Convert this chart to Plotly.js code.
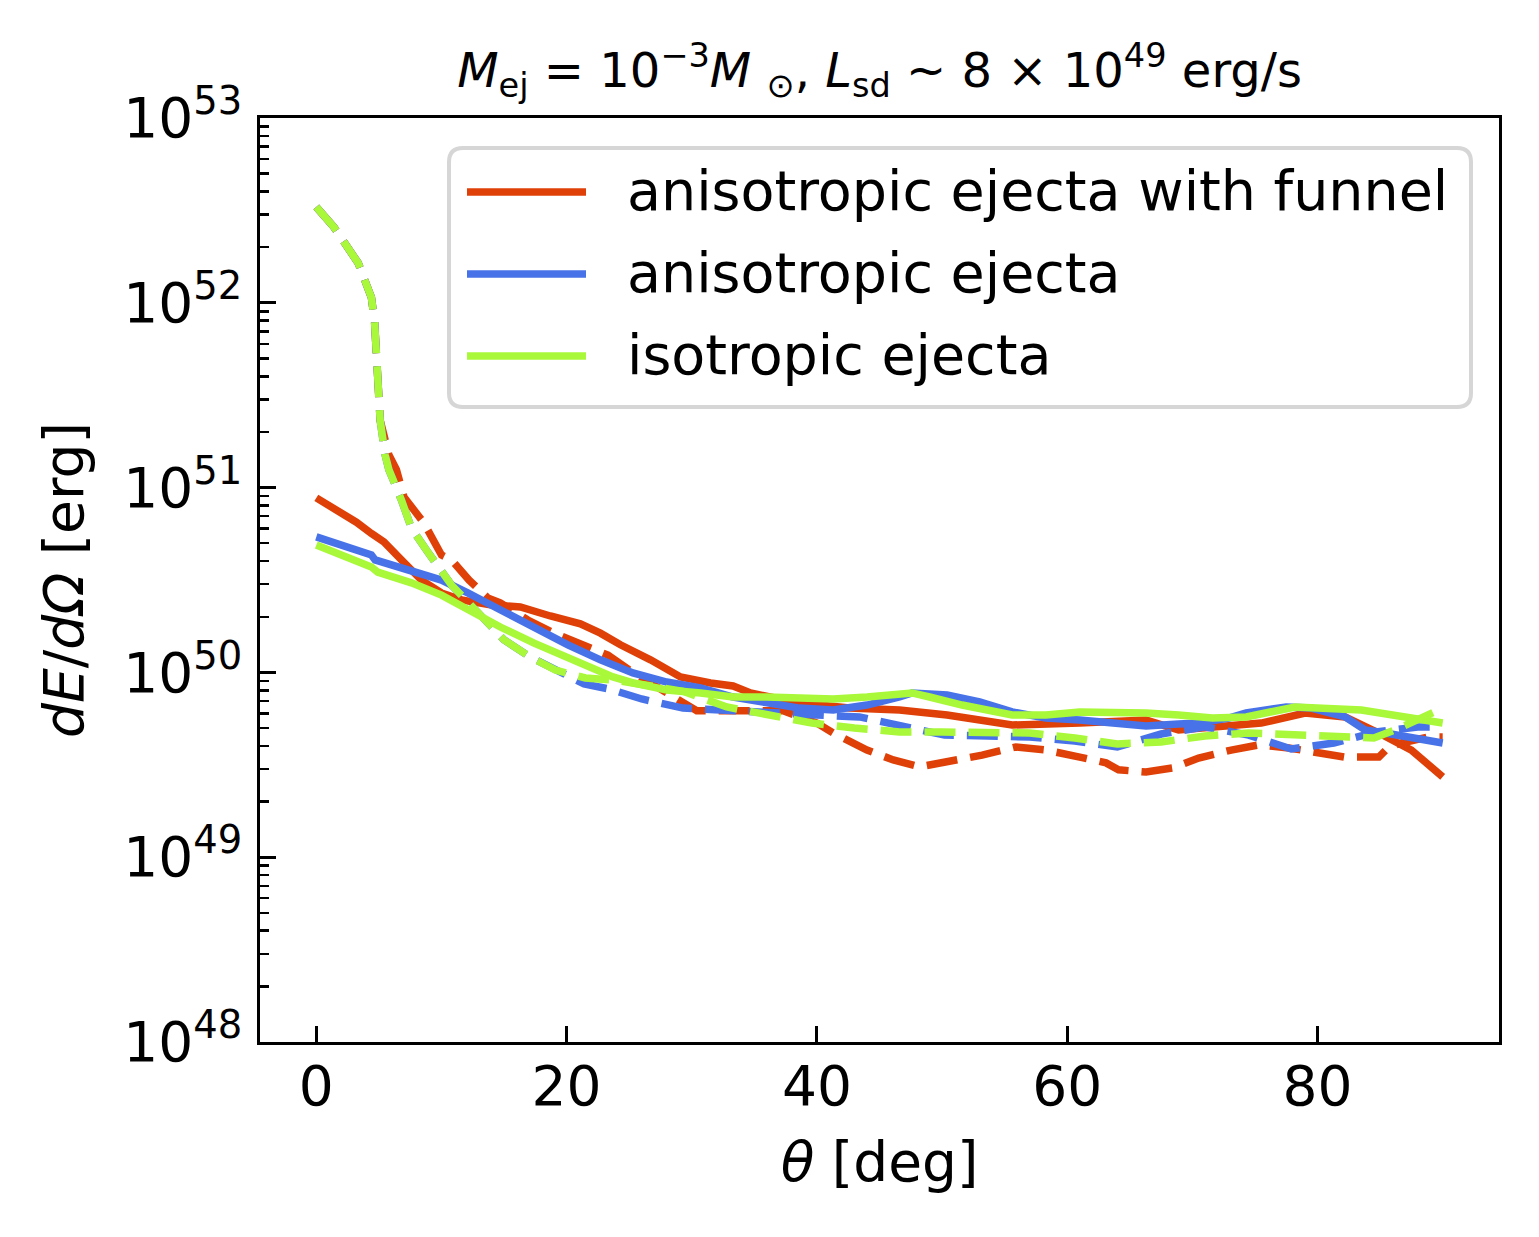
<!DOCTYPE html>
<html>
<head>
<meta charset="utf-8">
<script src="https://cdn.plot.ly/plotly-3.0.1.min.js"></script>
<style>html,body{margin:0;padding:0;background:#fff;}#plot{width:1539px;height:1237px;}</style>
</head>
<body>
<div id="plot"></div>
<script>
// ---- data (theta in deg, dE/dOmega in erg) ----
const thetaFunnelSolid = [0,2.0,3.2,4.4,5.4,6.8,8.4,10.0,11.6,13.9,16.3,18.7,21.1,22.7,24.3,26.7,29.1,31.5,33.3,34.7,38.6,42.6,46.6,50.4,55.6,61.0,66.3,68.9,75.5,79.0,82.2,84.9,87.5,90];
const eFunnelSolid = [8.8e50,7.4e50,6.5e50,5.65e50,5.08e50,4.06e50,3.16e50,2.69e50,2.47e50,2.32e50,2.26e50,2.02e50,1.83e50,1.63e50,1.41e50,1.17e50,9.45e49,8.77e49,8.44e49,7.74e49,6.83e49,6.41e49,6.26e49,5.88e49,5.19e49,5.32e49,5.52e49,4.88e49,5.32e49,6.03e49,5.74e49,4.70e49,3.80e49,2.72e49];

const thetaFunnelDash = [0,1.4,3.35,4.4,4.65,4.9,5.1,5.8,6.4,7.0,7.8,8.6,10.0,10.8,12.2,13.7,14.7,16.9,19.0,21.1,23.3,25.4,27.5,30.4,34.7,37.3,40.0,41.3,44.0,46.1,48.2,50.6,53.2,55.9,58.3,61.0,63.1,64.1,66.3,68.4,70.5,73.1,75.3,77.7,80.1,82.2,84.9,85.7,86.7,88.8,90];
const eFunnelDash = [3.30e52,2.57e52,1.64e52,1.07e52,8.0e51,4.3e51,2.32e51,1.50e51,1.25e51,8.9e50,7.57e50,6.43e50,4.32e50,4.06e50,3.16e50,2.53e50,2.38e50,1.92e50,1.63e50,1.41e50,1.24e50,9.9e49,8.04e49,6.2e49,6.2e49,6.2e49,5.32e49,4.70e49,3.80e49,3.36e49,3.08e49,3.27e49,3.57e49,3.95e49,3.80e49,3.48e49,3.24e49,2.97e49,2.89e49,3.04e49,3.44e49,3.80e49,4.05e49,3.90e49,3.66e49,3.48e49,3.48e49,3.95e49,4.15e49,4.47e49,4.47e49];

const thetaAnisoSolid = [0,2.2,4.4,4.7,7.6,10.0,12.1,14.7,17.4,20.1,22.7,25.3,28.0,30.7,33.3,36.0,38.6,41.3,44.0,46.6,47.6,50.4,53.0,55.6,58.3,61.0,63.6,66.3,68.9,70.5,72.9,74.3,77.5,79.5,82.2,83.8,85.4,90];
const eAnisoSolid = [5.41e50,4.89e50,4.32e50,4.06e50,3.58e50,3.16e50,2.69e50,2.18e50,1.74e50,1.41e50,1.17e50,9.93e49,8.87e49,8.24e49,7.36e49,6.83e49,6.41e49,6.26e49,6.66e49,7.36e49,7.74e49,7.55e49,6.92e49,6.11e49,5.66e49,5.52e49,5.32e49,5.13e49,5.25e49,5.32e49,5.66e49,6.03e49,6.5e49,6.41e49,5.74e49,4.88e49,4.70e49,4.15e49];

const thetaAnisoDash = [0,1.4,3.35,4.4,4.65,4.9,5.1,5.5,5.8,6.8,7.6,8.8,9.7,10.8,11.8,13.1,14.2,15.0,17.1,19.2,21.4,23.5,26.0,29.3,33.0,37.0,40.0,43.4,46.7,50.2,53.7,57.0,60.6,64.0,67.5,71.0,74.5,77.9,81.3,84.7,88.0,90];
const eAnisoDash = [3.30e52,2.57e52,1.64e52,1.07e52,8.0e51,4.3e51,2.32e51,1.5e51,1.25e51,8.57e50,6.04e50,4.59e50,3.81e50,2.97e50,2.53e50,2.05e50,1.76e50,1.50e50,1.21e50,1.03e50,8.66e49,8.1e49,7.18e49,6.41e49,6.18e49,6.03e49,5.88e49,5.74e49,5.19e49,4.58e49,4.53e49,4.47e49,4.25e49,3.95e49,4.64e49,5.07e49,4.58e49,3.85e49,4.15e49,4.76e49,5.07e49,5.07e49];

const thetaIsoSolid = [0,4.4,4.9,7.6,10.0,12.6,14.7,17.4,20.1,23.7,25.3,28.0,30.7,33.3,36.0,38.6,41.3,44.0,46.6,47.6,49.0,51.6,55.6,58.3,61.0,63.6,66.3,68.9,71.6,74.3,78.2,83.5,87.3,90];
const eIsoSolid = [4.89e50,3.72e50,3.49e50,3.05e50,2.62e50,2.10e50,1.76e50,1.44e50,1.20e50,9.45e49,8.77e49,8.04e49,7.74e49,7.36e49,7.36e49,7.28e49,7.18e49,7.36e49,7.74e49,7.74e49,7.36e49,6.66e49,5.88e49,5.88e49,6.11e49,6.11e49,6.03e49,5.88e49,5.66e49,5.74e49,6.5e49,6.26e49,5.66e49,5.32e49];

const thetaIsoDash = [0,1.4,3.35,4.4,4.65,4.9,5.1,5.5,5.8,6.8,7.6,8.8,9.7,10.8,11.8,13.1,14.2,15.0,17.1,19.1,21.5,23.7,26.0,29.3,32.8,36.2,39.6,43.0,46.6,50.0,53.6,57.0,60.6,64.0,67.5,71.0,74.5,78.0,81.5,84.5,86.2,88.0,89.3,90];
const eIsoDash = [3.30e52,2.57e52,1.64e52,1.07e52,8.0e51,4.3e51,2.32e51,1.5e51,1.25e51,8.57e50,6.04e50,4.59e50,3.81e50,2.97e50,2.53e50,2.05e50,1.76e50,1.50e50,1.21e50,1.03e50,9.33e49,9.10e49,8.6e49,7.9e49,6.5e49,5.88e49,5.32e49,5.0e49,4.76e49,4.76e49,4.76e49,4.70e49,4.42e49,4.10e49,4.20e49,4.53e49,4.70e49,4.58e49,4.42e49,4.42e49,4.88e49,5.52e49,6.1e49,6.2e49];

const seriesNames = ["anisotropic ejecta with funnel","anisotropic ejecta","isotropic ejecta"];
const xTicks = [0,20,40,60,80];

// ---- style ----
const RED = '#DF4008', BLUE = '#4873E8', GREEN = '#A9F83A';
const LW = 7.5;
const DASH = '31px,13px';
const FONT = 'DejaVu Sans, Liberation Sans, sans-serif';
const FS = 55;

function tr(x, y, color, dashed, name){
  return {x: x, y: y, type: 'scatter', mode: 'lines', name: name, showlegend: false,
          line: {color: color, width: LW, dash: dashed ? DASH : 'solid'}, hoverinfo: 'skip'};
}
const data = [
  tr(thetaFunnelSolid, eFunnelSolid, RED, false, seriesNames[0]),
  tr(thetaFunnelDash, eFunnelDash, RED, true, seriesNames[0]),
  tr(thetaAnisoSolid, eAnisoSolid, BLUE, false, seriesNames[1]),
  tr(thetaAnisoDash, eAnisoDash, BLUE, true, seriesNames[1]),
  tr(thetaIsoSolid, eIsoSolid, GREEN, false, seriesNames[2]),
  tr(thetaIsoDash, eIsoDash, GREEN, true, seriesNames[2])
];

// plot area in pixels: x 260..1499, y 118..1042
const PW = 1239, PH = 924;
function px(x){ return (x - 260) / PW; }
function py(y){ return (1042 - y) / PH; }

// rounded legend frame
const L = px(449), R = px(1471), T = py(148), B = py(407);
const rx = 14 / PW, ry = 14 / PH;
const framePath = `M ${L+rx},${T} L ${R-rx},${T} Q ${R},${T} ${R},${T-ry} L ${R},${B+ry} Q ${R},${B} ${R-rx},${B} L ${L+rx},${B} Q ${L},${B} ${L},${B+ry} L ${L},${T-ry} Q ${L},${T} ${L+rx},${T} Z`;

const legendColors = [RED, BLUE, GREEN];
const legendRows = [192, 274, 356];
const shapes = [{type: 'path', xref: 'paper', yref: 'paper', path: framePath,
                 line: {color: '#d6d6d6', width: 4}, fillcolor: 'rgba(255,255,255,0.8)', layer: 'above'}];
const annotations = [];
legendRows.forEach((r, i) => {
  shapes.push({type: 'line', xref: 'paper', yref: 'paper', x0: px(467), x1: px(586), y0: py(r), y1: py(r),
               line: {color: legendColors[i], width: LW}, layer: 'above'});
  annotations.push({xref: 'paper', yref: 'paper', x: px(625), y: py(r - 2), xanchor: 'left', yanchor: 'middle',
                    text: seriesNames[i], showarrow: false, font: {family: FONT, size: 55.5, color: '#000'}});
});

const layout = {
  width: 1539, height: 1237,
  paper_bgcolor: '#fff', plot_bgcolor: '#fff',
  margin: {l: 260, r: 40, t: 118, b: 195, pad: 0},
  font: {family: FONT, size: FS, color: '#000'},
  showlegend: false,
  title: {text: '<i>M</i><sub>ej</sub> = 10<sup>−3</sup><i>M</i> <sub>⊙</sub>, <i>L</i><sub>sd</sub> ~ 8 × 10<sup>49</sup> erg/s',
          font: {family: FONT, size: 48, color: '#000'}, x: 0.5715, xref: 'container', xanchor: 'center',
          y: 1 - 70/1237, yref: 'container', yanchor: 'middle'},
  xaxis: {
    range: [-4.5, 94.5], tickmode: 'array', tickvals: xTicks, ticktext: xTicks.map(String),
    ticks: 'inside', ticklen: 16, tickwidth: 3, tickcolor: '#000',
    showline: true, linecolor: '#000', linewidth: 3, mirror: true,
    showgrid: false, zeroline: false, ticklabelstandoff: -6,
    tickfont: {family: FONT, size: FS, color: '#000'},
    title: {text: '<i>θ</i> [deg]', font: {family: FONT, size: FS, color: '#000'}, standoff: 26}
  },
  yaxis: {
    type: 'log', range: [48, 53], dtick: 1, exponentformat: 'power', showexponent: 'all',
    ticks: 'inside', ticklen: 16, tickwidth: 3, tickcolor: '#000',
    minor: {ticks: 'inside', ticklen: 9, tickwidth: 2.5, tickcolor: '#000', dtick: 'D1', showgrid: false},
    showline: true, linecolor: '#000', linewidth: 3, mirror: true,
    showgrid: false, zeroline: false, ticklabelstandoff: 6,
    // plotly enlarges power-format log labels by 1.25x, so 44 renders as ~55
    tickfont: {family: FONT, size: 44, color: '#000'},
    title: {text: '<i>dE</i>/<i>d</i><i>Ω</i> [erg]', font: {family: FONT, size: FS, color: '#000'}, standoff: 22}
  },
  shapes: shapes,
  annotations: annotations
};

Plotly.newPlot('plot', data, layout, {staticPlot: true, displayModeBar: false});
</script>
</body>
</html>
